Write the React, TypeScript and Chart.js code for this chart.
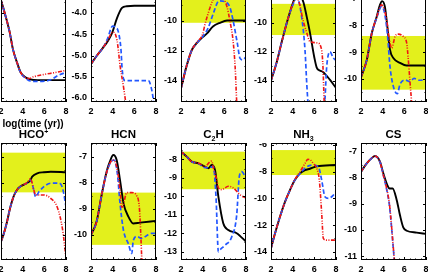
import React, { useEffect, useRef } from "react";
import { Chart, registerables } from "chart.js";

Chart.register(...registerables);

type Pt = [number, number];

// ---------- shared axis data ----------
const X_TICKS = [2, 4, 6, 8];
const X_TICK_LABELS = ["2", "4", "6", "8"];

// ---------- top row (titles are outside the visible page) ----------
const topAYTicks = [-6, -5.5, -5, -4.5, -4];
const topAYLabels = ["-6.0", "-5.5", "-5.0", "-4.5", "-4.0"];
const topABlack: Pt[] = [[2, -3.7], [2.4, -4.05], [2.8, -4.45], [3.1, -4.85], [3.5, -5.18], [3.8, -5.39], [4.25, -5.51], [4.7, -5.56], [5.4, -5.58], [8, -5.58]];
const topABlue: Pt[] = [[2, -3.7], [2.4, -4.05], [2.8, -4.45], [3.1, -4.85], [3.5, -5.18], [3.8, -5.4], [4.25, -5.53], [4.7, -5.6], [5.5, -5.61], [6.6, -5.57], [7.25, -5.47], [8, -5.4]];
const topARed: Pt[] = [[2, -3.7], [2.4, -4.05], [2.8, -4.45], [3.1, -4.85], [3.5, -5.18], [3.8, -5.39], [4.25, -5.52], [4.6, -5.54], [5.0, -5.5], [5.9, -5.45], [7.0, -5.4], [8, -5.35]];

const topBYTicks = [-6, -5.5, -5, -4.5, -4];
const topBYLabels = ["-6.0", "-5.5", "-5.0", "-4.5", "-4.0"];
const topBBlack: Pt[] = [[2, -5.2], [2.55, -5.0], [3.1, -4.82], [3.5, -4.68], [3.95, -4.47], [4.4, -4.12], [4.86, -3.88], [5.3, -3.84], [6, -3.83], [8, -3.83]];
const topBBlue: Pt[] = [[2, -5.2], [2.55, -5.0], [3.1, -4.82], [3.5, -4.62], [4.0, -4.31], [4.3, -4.35], [4.5, -4.42], [4.77, -4.87], [4.86, -5.27], [5.0, -5.55], [5.15, -5.59], [7.3, -5.59], [7.55, -5.75], [7.75, -6.05], [7.85, -6.4]];
const topBRed: Pt[] = [[2, -5.2], [2.55, -5.0], [3.1, -4.82], [3.5, -4.66], [4.03, -4.45], [4.4, -4.64], [4.7, -5.27], [5.0, -5.74], [5.2, -6.1], [5.4, -6.6]];

const topCYTicks = [-14, -12, -10];
const topCYLabels = ["-14", "-12", "-10"];
const topCBand: Pt = [-10.15, -7.0];
const topCBlack: Pt[] = [[2, -14.5], [2.5, -13.05], [3.0, -11.95], [3.45, -11.5], [4.0, -11.1], [4.4, -10.85], [4.95, -10.4], [5.6, -10.15], [6.25, -10.0], [8, -10.0]];
const topCBlue: Pt[] = [[2, -14.5], [2.5, -13.05], [3.0, -11.95], [3.45, -11.5], [4.0, -11.05], [4.5, -10.5], [5.0, -9.5], [5.5, -8.7], [6.05, -8.75], [6.5, -9.1], [6.8, -9.97], [7.2, -11.5], [7.45, -12.5], [7.7, -12.6], [8, -12.4]];
const topCRed: Pt[] = [[2, -14.5], [2.5, -13.05], [3.0, -11.95], [3.45, -11.45], [4.0, -10.9], [4.2, -10.3], [4.7, -9.1], [4.95, -8.64], [5.3, -8.3], [5.8, -8.4], [6.25, -9.1], [6.5, -9.97], [6.8, -11.3], [7.0, -13.1], [7.15, -15.5], [7.3, -17]];

const topDYTicks = [-14, -12, -10];
const topDYLabels = ["-14", "-12", "-10"];
const topDBand: Pt = [-10.85, -8.7];
const topDBlack: Pt[] = [[2, -14.0], [2.5, -12.8], [3.0, -11.3], [3.5, -9.9], [4.0, -8.7], [4.4, -8.0], [4.7, -8.1], [5.0, -8.6], [5.3, -9.6], [5.6, -10.7], [6.0, -12.4], [6.22, -13.1], [6.5, -13.3], [6.8, -13.4], [7.45, -13.95], [8, -14.5]];
const topDBlue: Pt[] = [[2, -14.0], [2.5, -12.8], [3.0, -11.3], [3.5, -9.9], [4.0, -8.8], [4.4, -8.3], [4.83, -9.6], [5.14, -11.9], [5.3, -14.2], [5.42, -15.6], [5.6, -17], [6.8, -17], [6.98, -15.3], [7.14, -13.05], [7.45, -12.0], [7.72, -12.4], [8, -12.6]];
const topDRed: Pt[] = [[2, -14.0], [2.5, -12.8], [3.0, -11.3], [3.5, -9.9], [4.0, -8.7], [4.3, -8.2], [4.6, -8.6], [4.95, -9.8], [5.3, -10.7], [5.6, -11.3], [6.3, -11.4], [6.68, -11.9], [6.8, -13.1], [6.9, -15.3], [7.0, -17]];

const topEYTicks = [-10, -9, -8, -7];
const topEYLabels = ["-10", "-9", "-8", "-7"];
const topEBand: Pt = [-10.4, -8.4];
const topEBlack: Pt[] = [[2, -9.94], [2.53, -9.3], [3.0, -8.29], [3.45, -7.68], [3.75, -7.24], [3.95, -7.1], [4.2, -7.3], [4.43, -8.05], [4.68, -8.92], [5.0, -9.23], [5.6, -9.4], [6.2, -9.5], [8, -9.5]];
const topEBlue: Pt[] = [[2, -9.94], [2.53, -9.3], [3.0, -8.29], [3.45, -7.72], [3.9, -7.3], [4.15, -7.5], [4.43, -8.3], [4.68, -9.55], [5.0, -10.3], [5.35, -10.55], [5.6, -10.2], [6.06, -10.04], [6.5, -10.1], [6.9, -9.98], [7.4, -10.05], [8, -10.02]];
const topERed: Pt[] = [[2, -9.94], [2.53, -9.3], [3.0, -8.29], [3.45, -7.7], [3.9, -7.24], [4.37, -7.8], [4.62, -8.55], [4.84, -8.85], [5.14, -8.42], [5.42, -8.33], [5.9, -8.42], [6.22, -8.67], [6.35, -9.2], [6.53, -10.15], [6.68, -10.9], [6.8, -11.5]];

// ---------- bottom row ----------
const hcoYTicks = [-10, -9, -8, -7];
const hcoYLabels = ["-10", "-9", "-8", "-7"];
const hcoBand: Pt = [-8.37, -6.85];
const hcoBlack: Pt[] = [[2, -10.26], [2.22, -10.0], [2.53, -9.54], [2.84, -8.97], [3.15, -8.54], [3.47, -8.28], [3.78, -8.15], [4.41, -8.01], [4.72, -7.9], [4.88, -7.77], [5.35, -7.64], [5.96, -7.6], [6.59, -7.58], [8, -7.6]];
const hcoBlue: Pt[] = [[2, -10.26], [2.22, -10.0], [2.53, -9.54], [2.84, -8.97], [3.15, -8.54], [3.47, -8.28], [3.78, -8.15], [4.41, -8.01], [4.72, -7.9], [5.03, -8.28], [5.19, -8.54], [5.5, -8.35], [5.96, -8.15], [6.59, -8.02], [7.37, -8.02], [7.69, -8.22], [8, -8.92]];
const hcoRed: Pt[] = [[2, -10.26], [2.22, -10.0], [2.53, -9.54], [2.84, -8.97], [3.15, -8.54], [3.47, -8.28], [3.78, -8.15], [4.41, -8.0], [4.72, -7.85], [5.03, -8.28], [5.19, -8.47], [5.96, -8.47], [6.59, -8.6], [7.22, -8.97], [7.69, -9.81], [8, -10.88]];

const hcnYTicks = [-10, -9, -8, -7];
const hcnYLabels = ["-10", "-9", "-8", "-7"];
const hcnBand: Pt = [-10.38, -8.38];
const hcnBlack: Pt[] = [[2, -10.0], [2.53, -9.47], [2.99, -8.45], [3.45, -7.56], [3.75, -7.18], [4.06, -6.94], [4.37, -7.13], [4.68, -7.9], [5.0, -8.79], [5.45, -9.3], [5.9, -9.56], [6.52, -9.53], [8, -9.46]];
const hcnBlue: Pt[] = [[2, -10.0], [2.53, -9.47], [2.99, -8.45], [3.45, -7.6], [3.75, -7.27], [4.12, -7.13], [4.43, -7.64], [4.68, -8.79], [5.0, -9.83], [5.45, -10.34], [5.76, -10.71], [5.9, -10.22], [6.22, -10.06], [6.68, -10.13], [7.13, -10.03], [7.6, -9.94], [8, -9.94]];
const hcnRed: Pt[] = [[2, -10.0], [2.53, -9.47], [2.99, -8.45], [3.45, -7.6], [3.75, -7.25], [4.0, -7.13], [4.37, -7.38], [4.68, -8.3], [4.83, -8.94], [4.95, -8.9], [5.3, -8.38], [5.76, -8.38], [6.22, -8.5], [6.46, -8.94], [6.58, -9.83], [6.68, -10.84], [6.8, -11.8]];

const c2hYTicks = [-13, -12, -11, -10, -9, -8];
const c2hYLabels = ["-13", "-12", "-11", "-10", "-9", "-8"];
const c2hBand: Pt = [-9.62, -7.59];
const c2hBlack: Pt[] = [[2, -7.59], [2.53, -7.86], [2.99, -8.13], [3.6, -8.22], [4.2, -8.4], [4.52, -8.49], [4.83, -8.31], [5.14, -8.58], [5.45, -10.02], [5.9, -11.46], [6.37, -11.83], [7.14, -12.0], [8, -12.46]];
const c2hBlue: Pt[] = [[2, -7.59], [2.53, -7.86], [2.99, -8.13], [3.6, -8.22], [4.2, -8.45], [4.6, -8.45], [4.98, -8.4], [5.23, -10.02], [5.45, -13.0], [5.6, -12.9], [6.06, -12.65], [6.68, -12.2], [7.14, -11.03], [7.38, -8.94], [7.6, -8.67], [8, -9.03]];
const c2hRed: Pt[] = [[2, -7.59], [2.53, -7.86], [2.99, -8.13], [3.6, -8.2], [4.2, -8.4], [4.68, -8.13], [4.83, -8.1], [5.0, -8.5], [5.3, -9.1], [5.45, -9.55], [5.76, -9.64], [6.37, -9.46], [6.83, -9.55], [7.45, -9.92], [8, -10.1]];

const nh3YTicks = [-14, -12, -10, -8, -6];
const nh3YLabels = ["-14", "-12", "-10", "-8", "-6"];
const nh3Band: Pt = [-8.25, -6.38];
const nh3Black: Pt[] = [[2, -13.75], [2.37, -12.63], [2.83, -11.38], [3.3, -10.25], [3.75, -9.38], [4.2, -8.63], [4.68, -8.13], [5.14, -7.88], [5.6, -7.78], [6.22, -7.6], [8, -7.5]];
const nh3Blue: Pt[] = [[2, -13.75], [2.37, -12.63], [2.83, -11.38], [3.3, -10.25], [3.75, -9.38], [4.2, -8.63], [4.68, -8.13], [5.3, -7.63], [5.9, -7.5], [6.37, -7.63], [6.68, -8.63], [6.98, -9.88], [7.3, -10.0], [7.76, -9.75], [8, -9.5]];
const nh3Red: Pt[] = [[2, -13.75], [2.37, -12.63], [2.83, -11.38], [3.3, -10.25], [3.75, -9.38], [4.2, -8.6], [4.68, -8.0], [5.14, -7.38], [5.4, -7.08], [5.6, -7.1], [5.9, -7.38], [6.22, -7.75], [6.46, -8.63], [6.68, -11.13], [6.83, -13.0], [7.14, -13.13], [8, -13.13]];

const csYTicks = [-11, -10, -9, -8, -7];
const csYLabels = ["-11", "-10", "-9", "-8", "-7"];
const csBlack: Pt[] = [[2, -7.77], [2.53, -7.45], [2.99, -7.25], [3.29, -7.17], [3.75, -7.38], [4.06, -7.83], [4.43, -8.28], [4.62, -8.41], [4.92, -8.41], [5.3, -8.86], [5.6, -9.44], [5.9, -9.9], [6.22, -10.03], [7.14, -10.1], [8, -10.15]];
const csBlue: Pt[] = [[2, -7.77], [2.53, -7.45], [2.99, -7.25], [3.29, -7.17], [3.75, -7.4], [4.06, -7.9], [4.37, -8.45], [4.62, -9.05], [4.83, -9.95], [4.98, -10.7], [5.14, -11.45], [5.3, -12]];
const csRed: Pt[] = [[2, -7.77], [2.53, -7.45], [2.99, -7.25], [3.29, -7.17], [3.75, -7.4], [4.06, -7.9], [4.37, -8.41], [4.62, -8.99], [4.83, -9.9], [4.98, -10.66], [5.14, -11.4], [5.3, -12]];

// ---------- layout ----------
const COL_X = [1, 91, 181, 271, 361];
const ROW_TOP = [-15, 143];
const PANEL_W = 65;
const PANEL_H = 117;
const AXW = 30;
const AXH = 18;
const PADR = 6;
const FONT = "'Liberation Sans', Arial, Helvetica, sans-serif";
const BLUE = "#2357ff";
const RED = "#f01515";
const BAND = "#e3f01c";

interface PanelSpec {
  key: string;
  col: number;
  row: number;
  yMin: number;
  yMax: number;
  yTicks: number[];
  yLabels: string[];
  showY: boolean;
  band: Pt | null;
  black: Pt[];
  blue: Pt[];
  red: Pt[];
}

const PANELS: PanelSpec[] = [
  { key: "tA", col: 0, row: 0, yMin: -6.094, yMax: -3.341, yTicks: topAYTicks, yLabels: topAYLabels, showY: false, band: null, black: topABlack, blue: topABlue, red: topARed },
  { key: "tB", col: 1, row: 0, yMin: -6.094, yMax: -3.341, yTicks: topBYTicks, yLabels: topBYLabels, showY: true, band: null, black: topBBlack, blue: topBBlue, red: topBRed },
  { key: "tC", col: 2, row: 0, yMin: -15.39, yMax: -7.65, yTicks: topCYTicks, yLabels: topCYLabels, showY: true, band: topCBand, black: topCBlack, blue: topCBlue, red: topCRed },
  { key: "tD", col: 3, row: 0, yMin: -15.47, yMax: -7.4, yTicks: topDYTicks, yLabels: topDYLabels, showY: true, band: topDBand, black: topDBlack, blue: topDBlue, red: topDRed },
  { key: "tE", col: 4, row: 0, yMin: -10.86, yMax: -6.5, yTicks: topEYTicks, yLabels: topEYLabels, showY: true, band: topEBand, black: topEBlack, blue: topEBlue, red: topERed },
  { key: "hco", col: 0, row: 1, yMin: -10.96, yMax: -6.48, yTicks: hcoYTicks, yLabels: hcoYLabels, showY: false, band: hcoBand, black: hcoBlack, blue: hcoBlue, red: hcoRed },
  { key: "hcn", col: 1, row: 1, yMin: -10.96, yMax: -6.48, yTicks: hcnYTicks, yLabels: hcnYLabels, showY: true, band: hcnBand, black: hcnBlack, blue: hcnBlue, red: hcnRed },
  { key: "c2h", col: 2, row: 1, yMin: -13.45, yMax: -7.12, yTicks: c2hYTicks, yLabels: c2hYLabels, showY: true, band: c2hBand, black: c2hBlack, blue: c2hBlue, red: c2hRed },
  { key: "nh3", col: 3, row: 1, yMin: -14.62, yMax: -5.85, yTicks: nh3YTicks, yLabels: nh3YLabels, showY: true, band: nh3Band, black: nh3Black, blue: nh3Blue, red: nh3Red },
  { key: "cs", col: 4, row: 1, yMin: -11.15, yMax: -6.67, yTicks: csYTicks, yLabels: csYLabels, showY: true, band: null, black: csBlack, blue: csBlue, red: csRed },
];

const toXY = (pts: Pt[]) => pts.map(([x, y]) => ({ x, y }));

const framePlugin = {
  id: "frame",
  beforeDatasetsDraw(chart: any, _args: any, opts: any) {
    const band = opts && opts.band;
    if (!band) return;
    const { ctx, chartArea } = chart;
    const ys = chart.scales.y;
    const y1 = Math.max(chartArea.top, ys.getPixelForValue(band[1]));
    const y2 = Math.min(chartArea.bottom, ys.getPixelForValue(band[0]));
    ctx.save();
    ctx.fillStyle = BAND;
    ctx.fillRect(chartArea.left, y1, chartArea.right - chartArea.left, y2 - y1);
    ctx.restore();
  },
  afterDatasetsDraw(chart: any, _args: any, opts: any) {
    const { ctx, chartArea } = chart;
    const xs = chart.scales.x;
    const ys = chart.scales.y;
    const { left, right, top, bottom } = chartArea;
    ctx.save();
    ctx.strokeStyle = "#000";
    ctx.lineWidth = 1;
    ctx.beginPath();
    for (let v = 2; v <= 8.001; v += 0.5) {
      const major = Math.abs(v - Math.round(v / 2) * 2) < 1e-6;
      const len = major ? 3 : 1.5;
      const px = Math.round(xs.getPixelForValue(v)) + 0.5;
      ctx.moveTo(px, bottom);
      ctx.lineTo(px, bottom - len);
      ctx.moveTo(px, top);
      ctx.lineTo(px, top + len);
    }
    const yt: number[] = opts.yTicks;
    const step = yt[1] - yt[0];
    const half = step / 2;
    const kStart = Math.ceil(ys.min / half);
    const kEnd = Math.floor(ys.max / half);
    for (let k = kStart; k <= kEnd; k++) {
      const v = k * half;
      const major = Math.abs(Math.round(v / step) * step - v) < 1e-6;
      const len = major ? 3 : 1.5;
      const py = Math.round(ys.getPixelForValue(v)) + 0.5;
      ctx.moveTo(left, py);
      ctx.lineTo(left + len, py);
      ctx.moveTo(right, py);
      ctx.lineTo(right - len, py);
    }
    ctx.stroke();
    ctx.strokeRect(left + 0.5, top + 0.5, right - left - 1, bottom - top - 1);
    ctx.restore();
  },
};

function Panel({ spec }: { spec: PanelSpec }) {
  const ref = useRef<HTMLCanvasElement>(null);
  useEffect(() => {
    const font = { family: FONT, size: 9, weight: "bold" as const };
    const lineBase = { pointRadius: 0, fill: false, cubicInterpolationMode: "monotone" as const, clip: 0 };
    const chart = new Chart(ref.current as HTMLCanvasElement, {
      type: "line",
      data: {
        datasets: [
          { ...lineBase, data: toXY(spec.red), borderColor: RED, borderWidth: 1.6, borderDash: [4, 1.5, 1, 1.5, 1, 1.5] },
          { ...lineBase, data: toXY(spec.blue), borderColor: BLUE, borderWidth: 1.7, borderDash: [4.5, 2.5] },
          { ...lineBase, data: toXY(spec.black), borderColor: "#000", borderWidth: 1.9 },
        ],
      },
      options: {
        responsive: false,
        animation: false,
        devicePixelRatio: 1,
        layout: { padding: { left: 0, right: PADR, top: 0, bottom: 0 } },
        plugins: {
          legend: { display: false },
          tooltip: { enabled: false },
          title: { display: false },
          frame: { band: spec.band, yTicks: spec.yTicks },
        } as any,
        scales: {
          x: {
            type: "linear",
            min: 2,
            max: 8,
            grid: { display: false, drawTicks: false },
            border: { display: false },
            ticks: {
              font,
              color: "#000",
              padding: 4,
              maxRotation: 0,
              autoSkip: false,
              callback: (_v: any, i: number) => X_TICK_LABELS[i],
            },
            afterBuildTicks: (s: any) => {
              s.ticks = X_TICKS.map((v) => ({ value: v }));
            },
            afterFit: (s: any) => {
              s.height = AXH;
              s.paddingLeft = 0;
              s.paddingRight = 0;
            },
          },
          y: {
            type: "linear",
            min: spec.yMin,
            max: spec.yMax,
            grid: { display: false, drawTicks: false },
            border: { display: false },
            ticks: {
              display: spec.showY,
              font,
              color: "#000",
              padding: 4,
              autoSkip: false,
              callback: (_v: any, i: number) => spec.yLabels[i],
            },
            afterBuildTicks: (s: any) => {
              s.ticks = spec.yTicks.map((v) => ({ value: v }));
            },
            afterFit: (s: any) => {
              s.width = AXW;
              s.paddingTop = 0;
              s.paddingBottom = 0;
            },
          },
        } as any,
      },
      plugins: [framePlugin as any],
    });
    return () => chart.destroy();
  }, [spec]);
  return (
    <canvas
      ref={ref}
      width={AXW + PANEL_W + PADR}
      height={PANEL_H + AXH}
      style={{ position: "absolute", left: COL_X[spec.col] - AXW, top: ROW_TOP[spec.row], display: "block" }}
    />
  );
}

const TITLES: { col: number; node: React.ReactNode }[] = [
  { col: 0, node: <>HCO<sup style={{ fontSize: 7, verticalAlign: "4px", lineHeight: 0 }}>+</sup></> },
  { col: 1, node: <>HCN</> },
  { col: 2, node: <>C<sub style={{ fontSize: 7, verticalAlign: "-3px", lineHeight: 0 }}>2</sub>H</> },
  { col: 3, node: <>NH<sub style={{ fontSize: 7, verticalAlign: "-3px", lineHeight: 0 }}>3</sub></> },
  { col: 4, node: <>CS</> },
];

export default function App() {
  return (
    <div style={{ position: "fixed", left: 0, top: 0, width: 428, height: 273, overflow: "hidden", background: "#fff" }}>
      {PANELS.map((p) => (
        <Panel key={p.key} spec={p} />
      ))}
      {TITLES.map((t) => (
        <div
          key={t.col}
          style={{
            position: "absolute",
            left: COL_X[t.col],
            top: 128,
            width: PANEL_W,
            textAlign: "center",
            fontFamily: FONT,
            fontWeight: "bold",
            fontSize: 11.5,
            lineHeight: "13px",
            color: "#000",
          }}
        >
          {t.node}
        </div>
      ))}
      <div
        style={{
          position: "absolute",
          left: 0,
          top: 118,
          width: 66,
          textAlign: "center",
          fontFamily: FONT,
          fontWeight: "bold",
          fontSize: 10,
          lineHeight: "12px",
          color: "#000",
          whiteSpace: "nowrap",
        }}
      >
        log(time (yr))
      </div>
    </div>
  );
}
